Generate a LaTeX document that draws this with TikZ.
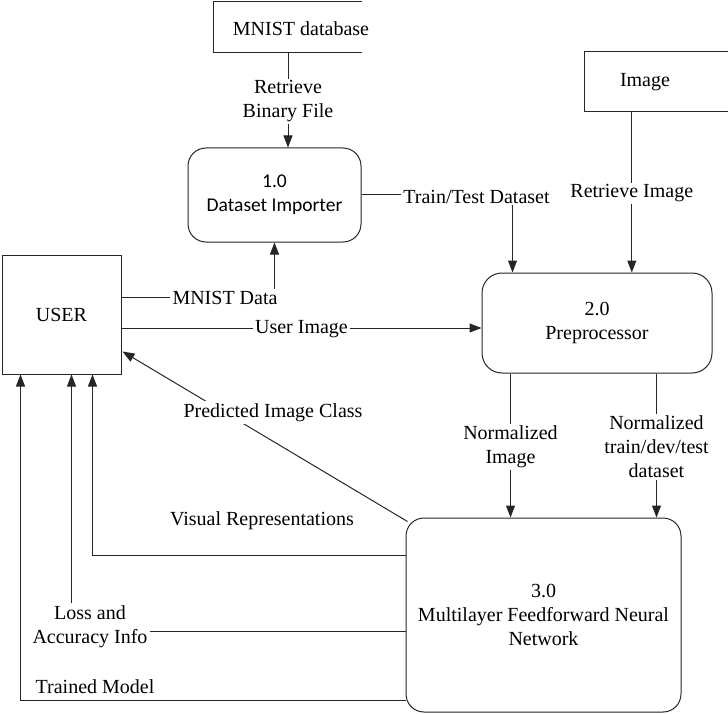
\documentclass[tikz,border=0pt]{standalone}
\usepackage{fontspec}
\setmainfont{Liberation Serif}
\newfontfamily\calfont{Carlito}
\usetikzlibrary{arrows.meta,calc}
\begin{document}
\begin{tikzpicture}[x=1pt,y=-1pt,
  every node/.style={font=\fontsize{20}{24}\selectfont, inner sep=2pt},
  txt/.style={yshift=-1.5pt},
  lbl/.style={txt, fill=white, align=center, inner sep=2pt},
  ln/.style={line width=1pt, draw=black!85},
  proc/.style={ln, draw, rounded corners=18pt, align=center},
  arr/.style={ln, -{Triangle[length=12pt,width=9pt]}},
]
\useasboundingbox (0,0) rectangle (728,714);

% stores
\node (mnist) [minimum width=148pt, minimum height=50pt] at (288,27) {};
\draw[ln] (mnist.north east) -- (mnist.north west) -- (mnist.south west) -- (mnist.south east);
\node (mnisttxt) [txt] at (301,27) {MNIST database};

\node (imgstore) [minimum width=143pt, minimum height=59pt] at (656.5,81.5) {};
\draw[ln] (imgstore.north east) -- (imgstore.north west) -- (imgstore.south west) -- (imgstore.south east);
\node (imgtxt) [txt] at (645,81) {Image};

% processes
\node (imp) [proc, minimum width=173pt, minimum height=94pt,
  font=\calfont\fontsize{19.5}{24}\selectfont] at (274.5,195) {1.0\\Dataset Importer};
\node (pre) [proc, rounded corners=20pt, minimum width=230pt, minimum height=100pt] at (597,323) {2.0\\Preprocessor};
\node (mnn) [proc, minimum width=275pt, minimum height=194pt] at (543.5,615) {3.0\\Multilayer Feedforward Neural\\Network};

% entity
\node (user) [ln, draw, minimum width=119pt, minimum height=119pt] at (61.5,314.5) {USER};

% flows
\draw[arr] (mnist.south) -- (mnist.south |- imp.north)
  node[lbl, midway] {Retrieve\\Binary File};

\node (tt) [lbl] at (476.5,195) {Train/Test Dataset};
\coordinate (ttx) at ($(pre.north west)+(31,0)$);
\draw[ln] (imp.east) -- (tt.west |- imp.east);
\draw[arr] (tt.south -| ttx) -- (ttx);

\coordinate (rix) at ($(imgstore.south west)+(47,0)$);
\draw[arr] (rix) -- (rix |- pre.north) node[lbl, midway] {Retrieve Image};

\node (md) [lbl] at (225,296) {MNIST Data};
\draw[ln] (user.east |- md.west) -- (md.west);
\draw[arr] (md.north -| imp.south) -- (imp.south);

\coordinate (uiy) at ($(user.east)+(0,13.5)$);
\draw[arr] (uiy) -- (pre.west |- uiy) node[lbl, pos=0.5] {User Image};

\draw[arr] ($(mnn.north west)+(2,4)$) -- ($(user.south east)+(1,-23)$);
\node (pic) [lbl] at (273,411) {Predicted Image Class};

\coordinate (n1) at ($(pre.south west)+(29,0)$);
\draw[arr] (n1) -- (n1 |- mnn.north) node[lbl, midway] {Normalized\\Image};
\coordinate (n2) at ($(pre.south west)+(175,0)$);
\draw[arr] (n2) -- (n2 |- mnn.north) node[lbl, midway] {Normalized\\train/dev/test\\dataset};

\draw[arr] ($(mnn.north west)+(0,38)$) -| ($(user.south west)+(91,0)$);
\node (vr) [txt] at (262,519) {Visual Representations};

\node (loss) [lbl] at (90,625) {Loss and\\Accuracy Info};
\coordinate (ly) at ($(mnn.north west)+(0,114)$);
\draw[ln] (ly) -- (loss.east |- ly);
\coordinate (lx) at ($(user.south west)+(70,0)$);
\draw[arr] (loss.north -| lx) -- (lx);

\draw[arr] ($(mnn.north west)+(0,183)$) -| ($(user.south west)+(19,0)$);
\node (tm) [txt] at (95,685) {Trained Model};
\end{tikzpicture}
\end{document}
